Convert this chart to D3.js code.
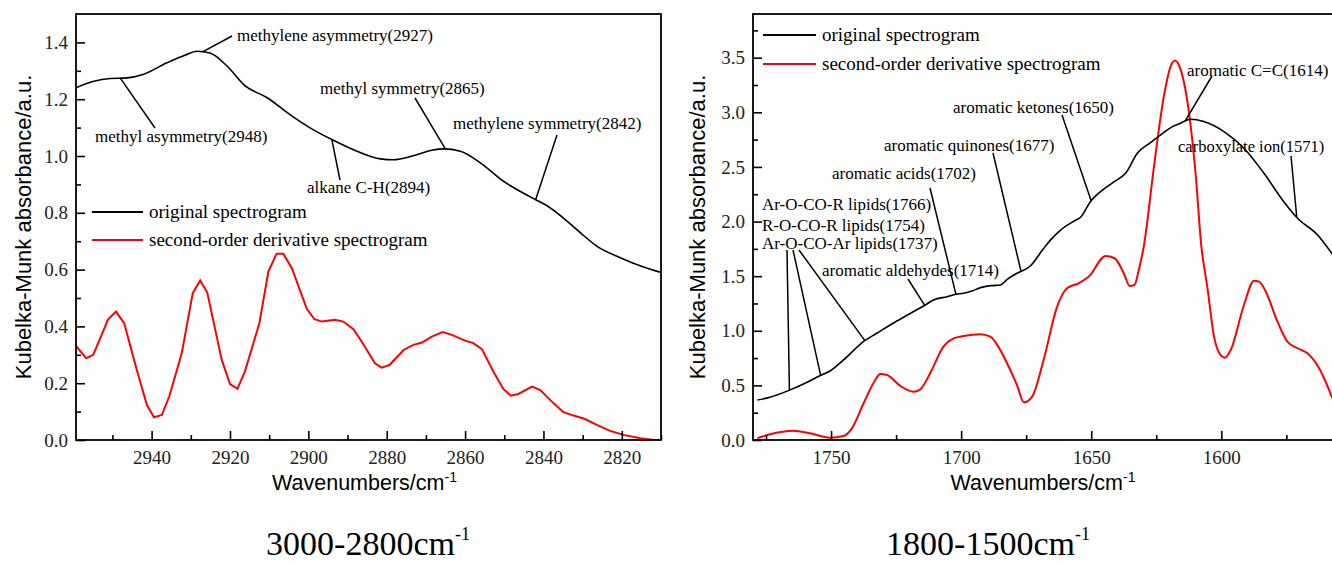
<!DOCTYPE html>
<html><head><meta charset="utf-8">
<script src="https://cdn.jsdelivr.net/npm/d3@7"></script>
<style>body{margin:0;background:#fff}svg{display:block}</style>
</head><body>
<svg id="chart" width="1332" height="563"></svg>
<script>
// ---------------- DATA ----------------
// Left panel (3000-2800 cm-1): original spectrogram
const leftOrigWn  = [2959.3,2955.0,2950.6,2946.3,2942.2,2936.1,2931.5,2928.4,2925.1,2920.7,2916.2,2910.5,2904.7,2898.8,2894.0,2887.6,2881.6,2878.3,2873.2,2868.5,2865.5,2861.2,2856.1,2850.2,2848.5,2842.0,2839.6,2833.9,2830.6,2826.3,2820.4,2815.0,2810.0];
const leftOrigAbs = [1.240,1.262,1.273,1.275,1.287,1.328,1.355,1.369,1.363,1.316,1.248,1.205,1.146,1.093,1.058,1.017,0.990,0.987,1.001,1.020,1.025,1.017,0.976,0.911,0.896,0.846,0.829,0.770,0.730,0.682,0.642,0.612,0.590];
// Left panel: second-order derivative spectrogram
const leftDerivWn  = [2959.3,2956.7,2954.9,2951.1,2949.1,2947.0,2943.8,2941.2,2939.4,2937.4,2935.5,2932.3,2929.5,2927.6,2925.8,2922.1,2920.0,2918.1,2916.2,2912.5,2910.2,2908.1,2906.4,2904.2,2900.4,2898.5,2896.6,2893.2,2891.1,2888.5,2886.4,2883.0,2881.3,2879.3,2875.7,2873.2,2871.0,2868.5,2865.7,2863.4,2860.0,2857.9,2855.7,2852.8,2850.2,2848.3,2846.4,2842.9,2840.8,2837.4,2834.9,2832.3,2829.4,2826.4,2823.0,2819.6,2815.3,2811.9,2810.2];
const leftDerivAbs = [0.331,0.288,0.300,0.425,0.452,0.411,0.247,0.123,0.080,0.088,0.153,0.306,0.517,0.562,0.519,0.282,0.197,0.180,0.241,0.411,0.593,0.656,0.656,0.605,0.462,0.426,0.417,0.423,0.417,0.390,0.347,0.270,0.255,0.264,0.317,0.335,0.343,0.364,0.380,0.370,0.350,0.341,0.320,0.241,0.179,0.156,0.162,0.188,0.176,0.129,0.098,0.086,0.074,0.053,0.032,0.018,0.006,0.000,0.000];

// Right panel (1800-1500 cm-1): original spectrogram
const rightOrigWn  = [1778.3,1773.5,1766.4,1760.6,1754.5,1750.4,1745.2,1737.2,1732.4,1727.3,1722.1,1717.4,1714.4,1710.6,1705.4,1701.9,1699.1,1695.8,1692.6,1688.8,1684.9,1682.3,1678.5,1673.4,1668.4,1665.7,1661.9,1656.2,1654.1,1650.3,1645.2,1640.7,1636.8,1632.3,1627.2,1623.3,1618.8,1616.3,1611.8,1606.7,1599.0,1591.3,1583.6,1576.5,1570.7,1563.0,1557.3];
const rightOrigAbs = [0.366,0.391,0.452,0.513,0.586,0.632,0.733,0.907,0.977,1.053,1.124,1.188,1.227,1.282,1.312,1.334,1.343,1.364,1.395,1.413,1.419,1.471,1.527,1.593,1.750,1.830,1.920,2.010,2.039,2.182,2.296,2.372,2.442,2.625,2.723,2.793,2.869,2.894,2.937,2.915,2.823,2.671,2.442,2.198,2.030,1.877,1.700];
// Right panel: second-order derivative spectrogram
const rightDerivWn  = [1778.3,1773.5,1764.5,1758.1,1750.4,1745.2,1742.0,1737.5,1733.4,1731.1,1728.5,1723.4,1718.3,1715.7,1711.9,1706.8,1702.9,1699.1,1692.6,1688.8,1685.6,1682.3,1678.5,1675.9,1672.7,1668.3,1663.1,1659.3,1654.8,1650.9,1644.5,1641.0,1637.5,1635.2,1633.4,1631.7,1629.6,1625.9,1622.1,1619.5,1617.8,1615.6,1612.4,1609.9,1607.7,1605.4,1602.8,1600.5,1598.6,1596.4,1591.3,1587.4,1585.5,1582.9,1578.4,1574.6,1570.7,1566.9,1562.4,1557.3];
const rightDerivAbs = [0.016,0.052,0.085,0.061,0.021,0.037,0.107,0.336,0.534,0.604,0.595,0.495,0.442,0.464,0.611,0.855,0.931,0.952,0.968,0.946,0.850,0.700,0.500,0.345,0.397,0.733,1.221,1.389,1.435,1.496,1.685,1.664,1.527,1.410,1.419,1.557,1.800,2.500,3.144,3.419,3.474,3.388,2.992,2.442,1.780,1.404,0.946,0.785,0.754,0.824,1.236,1.459,1.450,1.358,1.083,0.900,0.840,0.794,0.657,0.382];

// Tick values
const leftMajorTicksX = [2940,2920,2900,2880,2860,2840,2820];
const leftMinorTicksX = [2950,2930,2910,2890,2870,2850,2830,2810];
const leftMajorTicksY = [0.0,0.2,0.4,0.6,0.8,1.0,1.2,1.4];
const leftMinorTicksY = [0.1,0.3,0.5,0.7,0.9,1.1,1.3];
const rightMajorTicksX = [1750,1700,1650,1600];
const rightMinorTicksX = [1775,1725,1675,1625,1575];
const rightMajorTicksY = [0.0,0.5,1.0,1.5,2.0,2.5,3.0,3.5];
const rightMinorTicksY = [0.25,0.75,1.25,1.75,2.25,2.75,3.25,3.75];

// Band assignments
const leftBandLabels = ["methylene asymmetry(2927)","methyl asymmetry(2948)","alkane C-H(2894)","methyl symmetry(2865)","methylene symmetry(2842)"];
const leftBandWn = [2927,2948,2894,2865,2842];
const rightBandLabels = ["Ar-O-CO-R lipids(1766)","R-O-CO-R lipids(1754)","Ar-O-CO-Ar lipids(1737)","aromatic aldehydes(1714)","aromatic acids(1702)","aromatic quinones(1677)","aromatic ketones(1650)","aromatic C=C(1614)","carboxylate ion(1571)"];
const rightBandWn = [1766,1754,1737,1714,1702,1677,1650,1614,1571];

const legendLabels = ["original spectrogram","second-order derivative spectrogram"];
const seriesColors = ["#000000","#ff0000"];
const captions = ["3000-2800cm","1800-1500cm"];

// ---------------- LAYOUT ----------------
const svg = d3.select("#chart");
const serif = "'Liberation Serif','Times New Roman',serif";
const sans = "'Liberation Sans',Arial,sans-serif";

function interp(wnArr, valArr, wn){
  for(let i=0;i<wnArr.length-1;i++){
    const a=wnArr[i], b=wnArr[i+1];
    if((wn<=a && wn>=b)){
      const t=(a-wn)/(a-b);
      return valArr[i]+(valArr[i+1]-valArr[i])*t;
    }
  }
  return valArr[valArr.length-1];
}

function drawPanel(cfg){
  const x = d3.scaleLinear().domain(cfg.xDomain).range(cfg.xRange);
  const y = d3.scaleLinear().domain(cfg.yDomain).range([440,14]);
  const g = svg.append("g");
  const clipId = "clip"+cfg.id;
  svg.append("clipPath").attr("id",clipId).append("rect")
    .attr("x",cfg.xRange[0]).attr("y",14).attr("width",cfg.xRange[1]-cfg.xRange[0]).attr("height",426);

  // curves
  const lineOrig = d3.line().x(d=>x(d[0])).y(d=>y(d[1])).curve(d3.curveMonotoneX);
  const lineDeriv = d3.line().x(d=>x(d[0])).y(d=>y(d[1])).curve(cfg.derivCurve);
  g.append("path").attr("clip-path",`url(#${clipId})`)
    .datum(d3.zip(cfg.derivWn,cfg.derivAbs)).attr("d",lineDeriv)
    .attr("fill","none").attr("stroke",seriesColors[1]).attr("stroke-width",2);
  g.append("path").attr("clip-path",`url(#${clipId})`)
    .datum(d3.zip(cfg.origWn,cfg.origAbs)).attr("d",lineOrig)
    .attr("fill","none").attr("stroke",seriesColors[0]).attr("stroke-width",1.6);

  // axes
  const xAxisMajor = d3.axisBottom(x).tickValues(cfg.xMajor).tickSize(-9).tickPadding(11).tickFormat(d3.format("d"));
  const xAxisMinor = d3.axisBottom(x).tickValues(cfg.xMinor).tickSize(-5).tickFormat("");
  const yAxisMajor = d3.axisLeft(y).tickValues(cfg.yMajor).tickSize(-9).tickPadding(8).tickFormat(d3.format(".1f"));
  const yAxisMinor = d3.axisLeft(y).tickValues(cfg.yMinor).tickSize(-5).tickFormat("");
  [xAxisMajor,xAxisMinor].forEach(ax=>{
    const a=g.append("g").attr("transform","translate(0,440)").call(ax);
    a.select(".domain").remove();
  });
  [yAxisMajor,yAxisMinor].forEach(ax=>{
    const a=g.append("g").attr("transform",`translate(${cfg.xRange[0]},0)`).call(ax);
    a.select(".domain").remove();
  });
  g.selectAll(".tick line").attr("stroke","#000").attr("stroke-width",1.6);
  g.selectAll(".tick text").attr("font-family",serif).attr("font-size",19).attr("fill","#222");

  // frame
  g.append("rect").attr("x",cfg.xRange[0]).attr("y",14)
    .attr("width",cfg.xRange[1]-cfg.xRange[0]).attr("height",426)
    .attr("fill","none").attr("stroke","#000").attr("stroke-width",1.8);

  // axis titles
  const xt = g.append("text").attr("x",(cfg.xRange[0]+cfg.xRange[1])/2-4).attr("y",490)
    .attr("text-anchor","middle").attr("font-family",sans).attr("font-size",21.5).attr("fill","#000");
  xt.append("tspan").text("Wavenumbers/cm");
  xt.append("tspan").attr("dy",-8).attr("font-size",14).text("-1");
  g.append("text").attr("transform",`translate(${cfg.yTitleX},227) rotate(-90)`)
    .attr("text-anchor","middle").attr("font-family",sans).attr("font-size",22).attr("fill","#000")
    .text("Kubelka-Munk absorbance/a.u.");

  // legend
  cfg.legend.forEach((lg,i)=>{
    g.append("line").attr("x1",lg.x1).attr("x2",lg.x2).attr("y1",lg.y).attr("y2",lg.y)
      .attr("stroke",seriesColors[i]).attr("stroke-width",1.8);
    g.append("text").attr("x",lg.x2+6).attr("y",lg.y+6).attr("font-family",serif).attr("font-size",19)
      .attr("fill","#000").text(legendLabels[i]);
  });

  // annotations
  cfg.bandLabels.forEach((lab,i)=>{
    const L = cfg.annot[i];
    const wn = cfg.bandWn[i];
    const ax = x(wn), ay = y(interp(cfg.origWn,cfg.origAbs,wn));
    g.append("line").attr("x1",ax).attr("y1",ay).attr("x2",L.lx).attr("y2",L.ly)
      .attr("stroke","#000").attr("stroke-width",1.5);
    g.append("text").attr("x",L.tx).attr("y",L.ty).attr("font-family",serif).attr("font-size",L.fs||17)
      .attr("fill","#000").text(lab);
  });

  // caption
  const cap = svg.append("text").attr("x",cfg.capX).attr("y",555).attr("text-anchor","middle")
    .attr("font-family",serif).attr("font-size",34).attr("fill","#000");
  cap.append("tspan").text(cfg.caption);
  cap.append("tspan").attr("dy",-15).attr("font-size",18).text("-1");
}

drawPanel({
  id:"L", xDomain:[2959.3,2810], xRange:[76,661], yDomain:[0,1.5],
  origWn:leftOrigWn, origAbs:leftOrigAbs, derivWn:leftDerivWn, derivAbs:leftDerivAbs,
  derivCurve:d3.curveLinear,
  xMajor:leftMajorTicksX, xMinor:leftMinorTicksX, yMajor:leftMajorTicksY, yMinor:leftMinorTicksY,
  yTitleX:31,
  legend:[{x1:92,x2:143,y:212},{x1:92,x2:143,y:240}],
  bandLabels:leftBandLabels, bandWn:leftBandWn,
  annot:[{tx:237,ty:41,lx:232,ly:36},{tx:95,ty:142,lx:155,ly:128},{tx:307,ty:193,lx:340,ly:180},
         {tx:320,ty:94,lx:415,ly:98},{tx:453,ty:129,lx:557,ly:135}],
  caption:captions[0], capX:368
});
drawPanel({
  id:"R", xDomain:[1780,1554], xRange:[753,1341], yDomain:[0,3.9],
  origWn:rightOrigWn, origAbs:rightOrigAbs, derivWn:rightDerivWn, derivAbs:rightDerivAbs,
  derivCurve:d3.curveMonotoneX,
  xMajor:rightMajorTicksX, xMinor:rightMinorTicksX, yMajor:rightMajorTicksY, yMinor:rightMinorTicksY,
  yTitleX:705,
  legend:[{x1:763,x2:816,y:35},{x1:763,x2:816,y:64}],
  bandLabels:rightBandLabels, bandWn:rightBandWn,
  annot:[{tx:762,ty:210,lx:787,ly:250},{tx:762,ty:231,lx:793,ly:250},{tx:762,ty:249,lx:799,ly:250},
         {tx:822,ty:276,lx:908,ly:279},{tx:832,ty:179,lx:930,ly:188},{tx:884,ty:151,lx:993,ly:153},
         {tx:953,ty:113,lx:1062,ly:115},{tx:1187,ty:76,lx:1212,ly:76},{tx:1178,ty:152,lx:1291,ly:156,fs:16.5}],
  caption:captions[1], capX:988
});
</script>
</body></html>
